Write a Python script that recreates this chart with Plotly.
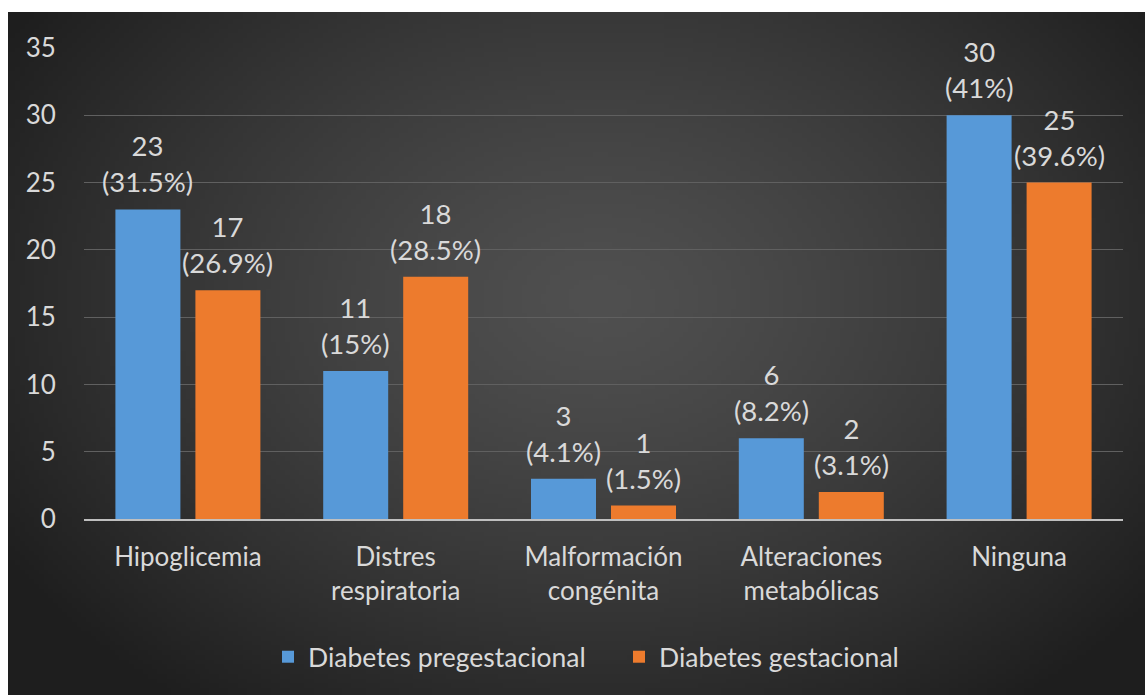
import base64
import struct
import zlib

import numpy as np
import plotly.graph_objects as go

# ---------------- data ----------------
categories = ["Hipoglicemia", "Distres<br>respiratoria", "Malformación<br>congénita",
              "Alteraciones<br>metabólicas", "Ninguna"]
pregestacional_n = [23, 11, 3, 6, 30]
pregestacional_pct = [31.5, 15, 4.1, 8.2, 41]
gestacional_n = [17, 18, 1, 2, 25]
gestacional_pct = [26.9, 28.5, 1.5, 3.1, 39.6]
series_names = ["Diabetes pregestacional", "Diabetes gestacional"]
y_ticks = [0, 5, 10, 15, 20, 25, 30, 35]

# ---------------- background gradient (style only) ----------------
def make_png(arr):
    h, w, _ = arr.shape
    raw = b"".join(b"\x00" + arr[r].tobytes() for r in range(h))

    def chunk(tag, data):
        return (struct.pack(">I", len(data)) + tag + data
                + struct.pack(">I", zlib.crc32(tag + data) & 0xFFFFFFFF))

    return (b"\x89PNG\r\n\x1a\n"
            + chunk(b"IHDR", struct.pack(">IIBBBBB", w, h, 8, 2, 0, 0, 0))
            + chunk(b"IDAT", zlib.compress(raw, 9))
            + chunk(b"IEND", b""))

gw, gh = 240, 144
xx, yy = np.meshgrid(np.linspace(0, 1, gw), np.linspace(0, 1, gh))
r = np.sqrt(((xx - 0.52) / 0.62) ** 2 + ((yy - 0.42) / 0.75) ** 2)
v = 80 - 50 * np.clip(r, 0, 1) ** 1.3
img = np.clip(np.stack([v, v, v], axis=-1), 0, 255).astype(np.uint8)
bg_src = "data:image/png;base64," + base64.b64encode(make_png(img)).decode()

# ---------------- geometry ----------------
W, H = 1145, 695
ML, MR, MT, MB = 84, 22, 48, 176
PW, PH = W - ML - MR, H - MT - MB
BARGAP = 0.23

def px_x(p):
    return (p - ML) / PW

def px_y(p):
    return (H - MB - p) / PH

FONT = "Lato, 'Open Sans', sans-serif"
TXT = "#d9d9d9"

def labels(ns, ps):
    return [f"{n}<br>({p:g}%)" for n, p in zip(ns, ps)]

fig = go.Figure()
fig.add_trace(go.Bar(
    name=series_names[0], x=categories, y=pregestacional_n,
    marker=dict(color="#5799d8", line=dict(width=0)),
))
fig.add_trace(go.Bar(
    name=series_names[1], x=categories, y=gestacional_n,
    marker=dict(color="#ed7b2d", line=dict(width=0)),
))

# value labels above the bars (positioned in data coordinates)
slot_half = PW / len(categories) * (1 - BARGAP) / 4
annotations = []
for sign, ns, ps in ((-1, pregestacional_n, pregestacional_pct),
                     (1, gestacional_n, gestacional_pct)):
    for i, txt in enumerate(labels(ns, ps)):
        annotations.append(dict(
            x=i, y=ns[i], xref="x", yref="y", text=txt, showarrow=False,
            xanchor="center", yanchor="bottom", xshift=sign * slot_half, yshift=9,
            font=dict(size=27.5, color=TXT, family=FONT),
        ))

fig.update_layout(
    width=W, height=H,
    margin=dict(l=ML, r=MR, t=MT, b=MB),
    paper_bgcolor="white",
    plot_bgcolor="rgba(0,0,0,0)",
    barmode="group",
    bargap=BARGAP,
    bargroupgap=0.1875,
    font=dict(family=FONT, size=26, color=TXT),
    showlegend=True,
    legend=dict(
        orientation="h", x=px_x(619), xanchor="center",
        y=px_y(657), yanchor="middle",
        font=dict(size=26.5, color=TXT, family=FONT),
        bgcolor="rgba(0,0,0,0)",
        entrywidth=306,
    ),
    annotations=annotations,
    images=[dict(
        source=bg_src, xref="paper", yref="paper",
        x=px_x(8), y=px_y(12), sizex=px_x(W) - px_x(8), sizey=px_y(12) - px_y(H),
        xanchor="left", yanchor="top", sizing="stretch", layer="below",
    )],
    xaxis=dict(
        showgrid=False, showline=True, linecolor="#bfbfbf", linewidth=2,
        ticks="outside", ticklen=14, tickcolor="rgba(0,0,0,0)",
        tickfont=dict(size=26, color=TXT, family=FONT), tickangle=0,
    ),
    yaxis=dict(
        range=[0, 35], tickvals=y_ticks, showgrid=True, gridcolor="#606060", gridwidth=1,
        zeroline=False, showline=False,
        ticks="outside", ticklen=22, tickcolor="rgba(0,0,0,0)",
        tickfont=dict(size=26, color=TXT, family=FONT),
    ),
)

fig.write_html("out.html")
